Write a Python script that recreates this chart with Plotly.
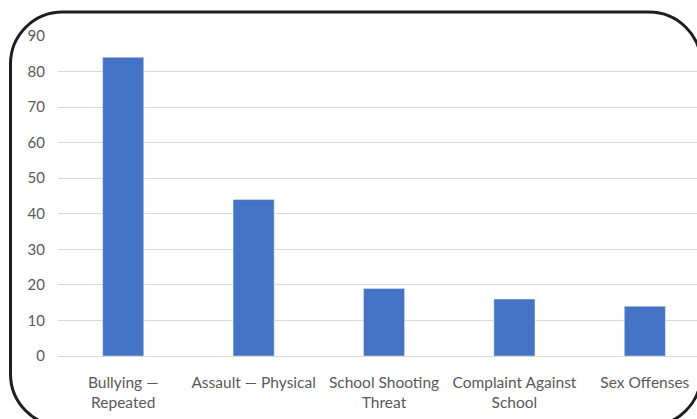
import plotly.graph_objects as go

categories = ["Bullying —<br>Repeated", "Assault — Physical", "School Shooting<br>Threat",
              "Complaint Against<br>School", "Sex Offenses"]
values = [84, 44, 19, 16, 14]
y_ticks = [0, 10, 20, 30, 40, 50, 60, 70, 80, 90]

W, H = 697, 419
ML, MR, MT, MB = 58, 0, 36, 63
PW, PH = W - ML - MR, H - MT - MB

def px(x):
    return (x - ML) / PW

def py(y):
    return (H - MB - y) / PH

# rounded border in pixel space
x0, y0, x1, y1, r = 10.5, 12, 701, 426, 52
k = 0.5523 * r
pts = [
    ("M", [(x0 + r, y0)]),
    ("L", [(x1 - r, y0)]),
    ("C", [(x1 - r + k, y0), (x1, y0 + r - k), (x1, y0 + r)]),
    ("L", [(x1, y1 - r)]),
    ("C", [(x1, y1 - r + k), (x1 - r + k, y1), (x1 - r, y1)]),
    ("L", [(x0 + r, y1)]),
    ("C", [(x0 + r - k, y1), (x0, y1 - r + k), (x0, y1 - r)]),
    ("L", [(x0, y0 + r)]),
    ("C", [(x0, y0 + r - k), (x0 + r - k, y0), (x0 + r, y0)]),
]
path = ""
for cmd, ps in pts:
    path += cmd + " " + " ".join(f"{px(a):.5f},{py(b):.5f}" for a, b in ps) + " "
path += "Z"

fig = go.Figure(go.Bar(x=categories, y=values, marker_color="#4472C4", width=0.315))

fig.update_layout(
    width=W, height=H,
    margin=dict(l=ML, r=MR, t=MT, b=MB),
    plot_bgcolor="white", paper_bgcolor="white",
    font=dict(family="Lato", size=15, color="#595959"),
    showlegend=False,
    shapes=[dict(type="path", xref="paper", yref="paper", path=path,
                 line=dict(color="#1e1e1e", width=3), fillcolor="rgba(0,0,0,0)", layer="above")],
)
fig.update_xaxes(range=[-0.5, 4.4], showgrid=False, ticks="", ticklabelstandoff=15,
                 tickfont=dict(size=15.5, color="#595959"))
fig.update_yaxes(range=[0, 90], tickvals=y_ticks, showgrid=True, gridcolor="#d9d9d9", gridwidth=1,
                 zeroline=True, zerolinecolor="#d9d9d9", zerolinewidth=1,
                 ticks="", ticklabelstandoff=12, tickfont=dict(size=15, color="#595959"))

fig.write_html("out.html", config={"displayModeBar": False},
               post_script="document.body.style.margin='0';document.body.style.overflow='hidden';")
